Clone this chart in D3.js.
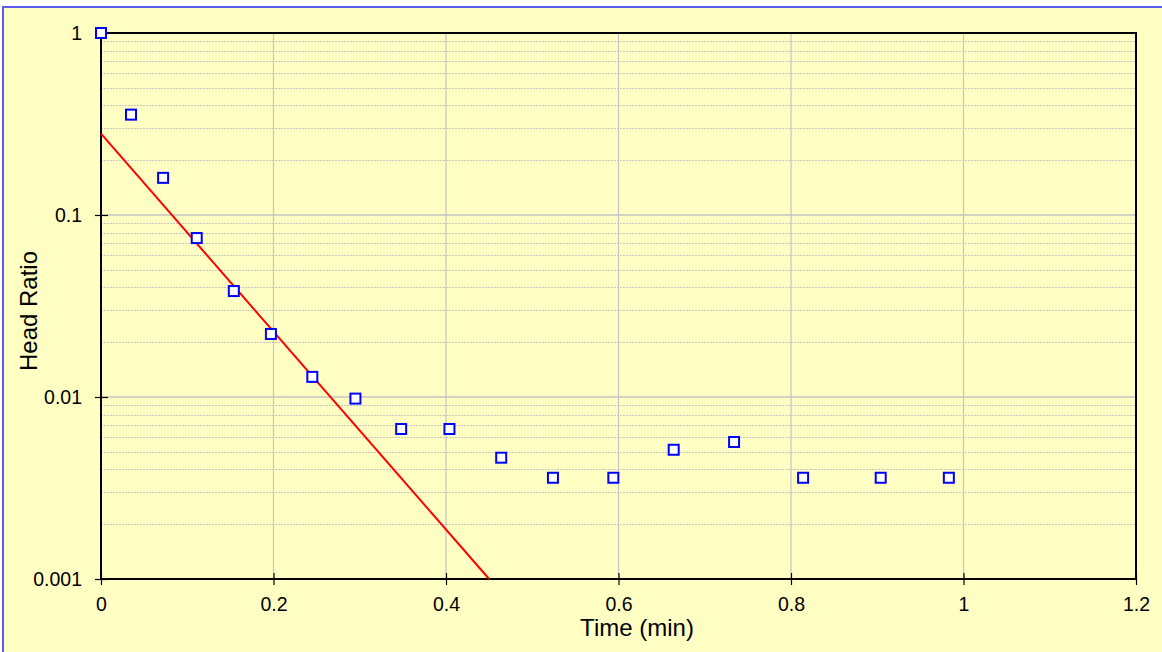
<!DOCTYPE html>
<html><head><meta charset="utf-8">
<script src="https://cdn.jsdelivr.net/npm/d3@7"></script>
<style>html,body{margin:0;padding:0;background:#fff;}svg{display:block;}</style>
</head><body>
<script>
const timeMin = [0, 0.0348, 0.072, 0.111, 0.154, 0.197, 0.245, 0.295, 0.348, 0.404, 0.464, 0.524, 0.594, 0.664, 0.734, 0.814, 0.904, 0.983];
const headRatio = [1.0, 0.356, 0.16, 0.0747, 0.0382, 0.0222, 0.0129, 0.0098, 0.00667, 0.00667, 0.00464, 0.0036, 0.0036, 0.00513, 0.00566, 0.0036, 0.0036, 0.0036];
const fitT = [0, 0.45];
const fitH = [0.28, 0.001];
const xTicks = [0, 0.2, 0.4, 0.6, 0.8, 1, 1.2];
const yTicks = [1, 0.1, 0.01, 0.001];
const yTickLabels = ["1", "0.1", "0.01", "0.001"];

const W = 1162, H = 652;
const m = {left: 101, right: 1136, top: 33, bottom: 579};
const svg = d3.select("body").append("svg").attr("width", W).attr("height", H);
const font = "'Liberation Sans', Arial, sans-serif";

svg.append("rect").attr("x", 3).attr("y", 7).attr("width", W + 10).attr("height", H + 10)
  .attr("fill", "#FFFFC4").attr("stroke", "#5a5aee").attr("stroke-width", 2);

const x = d3.scaleLinear().domain([0, 1.2]).range([m.left, m.right]);
const y = d3.scaleLog().domain([0.001, 1]).range([m.bottom, m.top]);

// minor horizontal gridlines
const minor = [];
[0.001, 0.01, 0.1].forEach(d => { for (let k = 2; k <= 9; k++) minor.push(d * k); });
svg.append("g").selectAll("line").data(minor).join("line")
  .attr("x1", m.left).attr("x2", m.right)
  .attr("y1", d => Math.round(y(d)) + 0.5).attr("y2", d => Math.round(y(d)) + 0.5)
  .attr("stroke", "#c8c8c0").attr("stroke-width", 1.2).attr("stroke-dasharray", "2,1");
// major horizontal
svg.append("g").selectAll("line").data(yTicks).join("line")
  .attr("x1", m.left).attr("x2", m.right)
  .attr("y1", d => y(d)).attr("y2", d => y(d))
  .attr("stroke", "#c4c4c4").attr("stroke-width", 1.5);
// vertical gridlines
svg.append("g").selectAll("line").data(xTicks).join("line")
  .attr("x1", d => x(d)).attr("x2", d => x(d))
  .attr("y1", m.top).attr("y2", m.bottom)
  .attr("stroke", "#c4c4c4").attr("stroke-width", 1.2);

// frame
svg.append("rect").attr("x", m.left).attr("y", m.top)
  .attr("width", m.right - m.left).attr("height", m.bottom - m.top)
  .attr("fill", "none").attr("stroke", "#000").attr("stroke-width", 2);

// x axis ticks (cross)
const xa = d3.axisBottom(x).tickValues(xTicks).tickFormat(d => d3.format("")(d)).tickSizeInner(6).tickSizeOuter(0).tickPadding(12);
const gx = svg.append("g").attr("transform", `translate(0,${m.bottom})`).call(xa);
gx.select(".domain").remove();
gx.selectAll(".tick line").attr("y1", -6).attr("y2", 6).attr("stroke", "#000").attr("stroke-width", 1.2);
gx.selectAll(".tick text").attr("font-family", font).attr("font-size", 19.5).attr("fill", "#000");

const ya = d3.axisLeft(y).tickValues(yTicks).tickFormat((d, i) => yTickLabels[i]).tickSizeInner(6).tickSizeOuter(0).tickPadding(13);
const gy = svg.append("g").attr("transform", `translate(${m.left},0)`).call(ya);
gy.select(".domain").remove();
gy.selectAll(".tick line").attr("x1", -6).attr("x2", 7).attr("stroke", "#000").attr("stroke-width", 1.2);
gy.selectAll(".tick text").attr("font-family", font).attr("font-size", 19.5).attr("fill", "#000");

// fit line
svg.append("path").datum(fitT.map((t, i) => [t, fitH[i]]))
  .attr("d", d3.line().x(d => x(d[0])).y(d => y(d[1])))
  .attr("fill", "none").attr("stroke", "#ff0000").attr("stroke-width", 2);

// markers
svg.append("g").selectAll("rect").data(timeMin.map((t, i) => [t, headRatio[i]])).join("rect")
  .attr("x", d => x(d[0]) - 5).attr("y", d => y(d[1]) - 5)
  .attr("width", 10).attr("height", 10)
  .attr("fill", "#fff").attr("stroke", "#0000ff").attr("stroke-width", 2);

// axis titles
svg.append("text").attr("x", 637).attr("y", 636)
  .attr("text-anchor", "middle").attr("font-family", font).attr("font-size", 24).text("Time (min)");
svg.append("text").attr("transform", `translate(37,311) rotate(-90)`)
  .attr("text-anchor", "middle").attr("font-family", font).attr("font-size", 24).text("Head Ratio");
</script>
</body></html>
